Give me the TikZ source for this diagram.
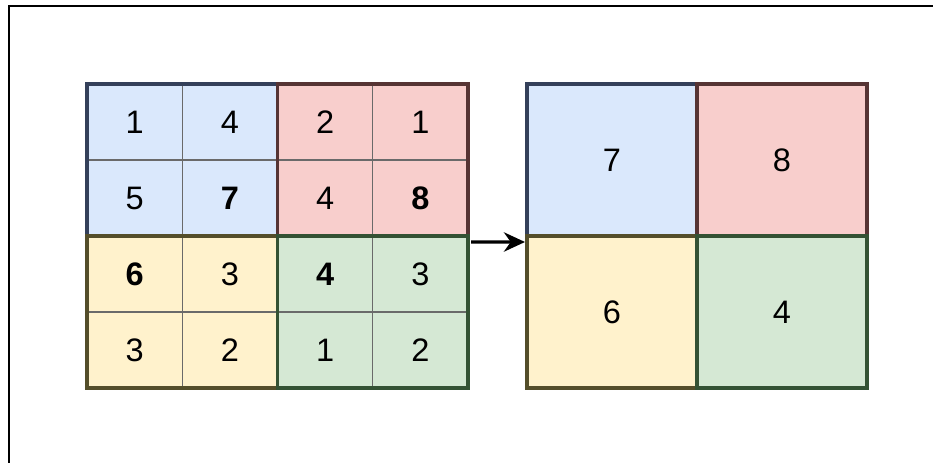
\documentclass[tikz,border=0pt]{standalone}
\usepackage{fontspec}
\setmainfont{Liberation Sans}
\usepackage{xcolor}
\usepackage{tikz}
\usetikzlibrary{arrows.meta, positioning}
\definecolor{pool-blue}{HTML}{DAE8FC}
\definecolor{pool-red}{HTML}{F8CECC}
\definecolor{pool-yellow}{HTML}{FFF2CC}
\definecolor{pool-green}{HTML}{D5E8D4}
\definecolor{edge-blue}{HTML}{34405A}
\definecolor{edge-red}{HTML}{563434}
\definecolor{edge-yellow}{HTML}{544E2A}
\definecolor{edge-green}{HTML}{345234}
\definecolor{cell-line}{HTML}{6A6A6A}

\begin{document}
\begin{tikzpicture}[
  cell/.style={rectangle, draw=cell-line, line width=0.8pt, minimum width=1.905cm, minimum height=1.52cm,
    outer sep=0pt, inner sep=0pt, font=\fontsize{18.5}{20}\selectfont},
  pooled/.style={cell, minimum width=3.4cm, minimum height=3.04cm, line width=2pt},
  group/.style={line width=2pt},
  arrow/.style={-{Stealth[length=12pt, width=11pt]}, line width=1.9pt}
]
  \useasboundingbox (0,0) rectangle (18.66,9.26);
  % outer frame, only top and left edges show
  \draw[line width=1.1pt] (18.66,9.14) -- (0.18,9.14) -- (0.18,0);

  % input map 4x4
  \node[cell, fill=pool-blue, anchor=north west] (a11) at (1.74,7.58) {1};
  \node[cell, fill=pool-blue, right=0cm of a11] (a12) {4};
  \node[cell, fill=pool-red, right=0cm of a12] (a13) {2};
  \node[cell, fill=pool-red, right=0cm of a13] (a14) {1};
  \node[cell, fill=pool-blue, below=0cm of a11] (a21) {5};
  \node[cell, fill=pool-blue, right=0cm of a21] (a22) {\textbf{7}};
  \node[cell, fill=pool-red, right=0cm of a22] (a23) {4};
  \node[cell, fill=pool-red, right=0cm of a23] (a24) {\textbf{8}};
  \node[cell, fill=pool-yellow, below=0cm of a21] (a31) {\textbf{6}};
  \node[cell, fill=pool-yellow, right=0cm of a31] (a32) {3};
  \node[cell, fill=pool-green, right=0cm of a32] (a33) {\textbf{4}};
  \node[cell, fill=pool-green, right=0cm of a33] (a34) {3};
  \node[cell, fill=pool-yellow, below=0cm of a31] (a41) {3};
  \node[cell, fill=pool-yellow, right=0cm of a41] (a42) {2};
  \node[cell, fill=pool-green, right=0cm of a42] (a43) {1};
  \node[cell, fill=pool-green, right=0cm of a43] (a44) {2};

  \draw[group, edge-blue] (a11.north west) rectangle (a22.south east);
  \draw[group, edge-red] (a13.north west) rectangle (a24.south east);
  \draw[group, edge-yellow] (a31.north west) rectangle (a42.south east);
  \draw[group, edge-green] (a33.north west) rectangle (a44.south east);

  % pooled map 2x2
  \node[pooled, fill=pool-blue, draw=edge-blue, anchor=north west] (p11) at (10.54,7.58) {7};
  \node[pooled, fill=pool-red, draw=edge-red, right=0cm of p11] (p12) {8};
  \node[pooled, fill=pool-yellow, draw=edge-yellow, below=0cm of p11] (p21) {6};
  \node[pooled, fill=pool-green, draw=edge-green, right=0cm of p21] (p22) {4};

  \draw[arrow] ([xshift=0.06cm, yshift=-0.12cm]a24.south east) -- ([xshift=-0.04cm, yshift=-0.12cm]p11.south west);
\end{tikzpicture}
\end{document}
